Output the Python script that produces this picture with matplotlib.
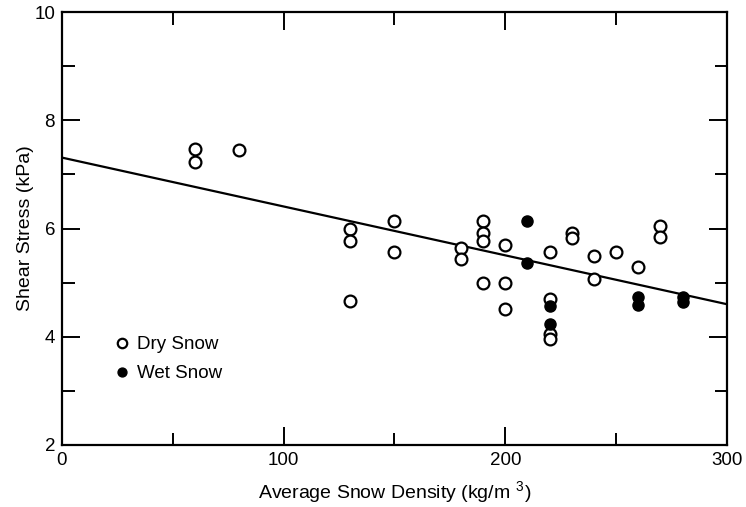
import matplotlib.pyplot as plt
import numpy as np

plt.rcParams['font.family'] = ['Liberation Sans', 'DejaVu Sans']
plt.rcParams['mathtext.default'] = 'regular'

# dry snow samples
dry_density = [60, 60, 80, 130, 130, 130, 150, 150, 180, 180, 190, 190, 190, 190,
               200, 200, 200, 220, 220, 220, 220, 230, 230, 240, 240, 250, 260, 270, 270]
dry_stress = [7.47, 7.23, 7.45, 6.00, 5.77, 4.66, 6.14, 5.57, 5.64, 5.44, 6.13, 5.91, 5.77, 5.00,
              5.70, 5.00, 4.52, 5.56, 4.69, 4.05, 3.95, 5.92, 5.82, 5.49, 5.07, 5.56, 5.28, 6.05, 5.84]

# wet snow samples
wet_density = [210, 210, 220, 220, 260, 260, 280, 280]
wet_stress = [6.13, 5.36, 4.56, 4.23, 4.73, 4.59, 4.73, 4.64]

# regression line
fit_intercept = 7.31
fit_slope = -0.00903
fit_x = np.array([0, 300])

fig = plt.figure(figsize=(7.46, 5.07), dpi=100)
ax = fig.add_axes([0.0831, 0.1223, 0.8914, 0.854])

ax.plot(fit_x, fit_intercept + fit_slope * fit_x, color='black', lw=1.6, zorder=2)
ax.plot(dry_density, dry_stress, 'o', ms=8.5, mfc='white', mec='black', mew=1.6,
        label='Dry Snow', zorder=3)
ax.plot(wet_density, wet_stress, 'o', ms=8, mfc='black', mec='black', mew=1.0,
        label='Wet Snow', zorder=3)

ax.set_xlim(0, 300)
ax.set_ylim(2, 10)
ax.set_xticks([0, 100, 200, 300])
ax.set_xticks([50, 150, 250], minor=True)
ax.set_yticks([2, 4, 6, 8, 10])
ax.set_yticks([3, 5, 7, 9], minor=True)
ax.tick_params(which='both', direction='in', top=True, right=True, width=1.4,
               labelsize=13.5, pad=5)
ax.tick_params(which='major', length=13)
ax.tick_params(which='minor', length=9)
for s in ax.spines.values():
    s.set_linewidth(1.6)

ax.set_xlabel('Average Snow Density (kg/m$\\ ^{3}$)', fontsize=14, labelpad=7)
ax.set_ylabel('Shear Stress (kPa)', fontsize=14, labelpad=0)

ax.legend(loc='center left', bbox_to_anchor=(0.07, 0.198), frameon=False,
          handlelength=0.6, handletextpad=0.5, labelspacing=0.65, fontsize=13.5,
          markerscale=0.8, borderaxespad=0)

fig.savefig('out.png', dpi=100)
